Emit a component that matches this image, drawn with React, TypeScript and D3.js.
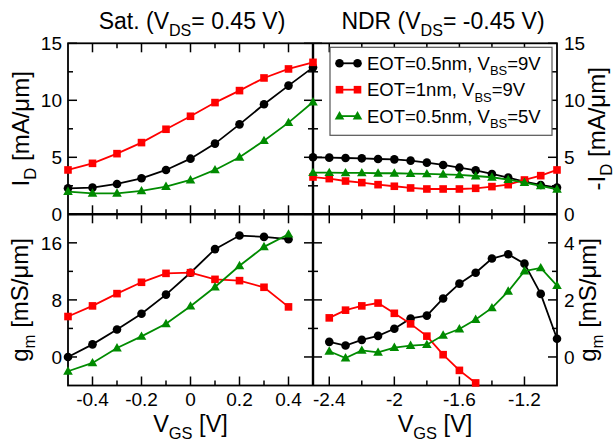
import React from "react";
import * as d3 from "d3";

// ---------- DATA ----------
const xSatTop = [-0.5, -0.4, -0.3, -0.2, -0.1, 0, 0.1, 0.2, 0.3, 0.4, 0.5];
const idSatBlack = [2.28, 2.34, 2.66, 3.16, 3.89, 4.88, 6.2, 7.89, 9.65, 11.29, 12.89];
const idSatRed = [3.89, 4.47, 5.32, 6.29, 7.46, 8.6, 9.8, 10.85, 11.96, 12.75, 13.33];
const idSatGreen = [1.99, 1.84, 1.84, 2.05, 2.43, 3.01, 3.89, 5.0, 6.46, 8.04, 9.85];

const xNdrTop = [-2.5, -2.4, -2.3, -2.2, -2.1, -2.0, -1.9, -1.8, -1.7, -1.6, -1.5, -1.4, -1.3, -1.2, -1.1, -1.0];
const idNdrBlack = [5.0, 4.97, 4.94, 4.91, 4.85, 4.82, 4.71, 4.53, 4.33, 4.09, 3.86, 3.54, 3.22, 2.87, 2.57, 2.34];
const idNdrRed = [3.27, 3.13, 2.92, 2.78, 2.6, 2.46, 2.31, 2.22, 2.22, 2.22, 2.28, 2.43, 2.6, 3.01, 3.39, 3.89];
const idNdrGreen = [3.65, 3.65, 3.63, 3.63, 3.6, 3.6, 3.57, 3.54, 3.51, 3.45, 3.36, 3.25, 3.04, 2.78, 2.49, 2.19];

const xSatBot = [-0.5, -0.4, -0.3, -0.2, -0.1, 0, 0.1, 0.2, 0.3, 0.4];
const gmSatBlack = [0, 1.77, 3.86, 6.05, 8.74, 11.81, 15.12, 17.02, 16.84, 16.51];
const gmSatRed = [5.67, 7.16, 8.88, 10.47, 11.72, 11.81, 10.88, 10.7, 9.77, 7.02];
const gmSatGreen = [-2.0, -0.84, 1.26, 2.88, 4.65, 7.12, 9.81, 12.79, 15.44, 17.21];

const xNdrBot = [-2.4, -2.3, -2.2, -2.1, -2.0, -1.9, -1.8, -1.7, -1.6, -1.5, -1.4, -1.3, -1.2, -1.1, -1.0];
const gmNdrBlack = [0.53, 0.4, 0.6, 0.74, 0.99, 1.35, 1.45, 2.05, 2.57, 2.95, 3.45, 3.6, 3.27, 2.21, 0.64];
const gmNdrRed = [1.37, 1.64, 1.79, 1.89, 1.53, 1.16, 0.73, 0.08, -0.47, -0.91];
const gmNdrGreen = [0.2, -0.04, 0.23, 0.16, 0.33, 0.4, 0.43, 0.76, 0.98, 1.31, 1.72, 2.3, 3.01, 3.12, 2.5];

const satXTickLabels = ["-0.4", "-0.2", "0", "0.2", "0.4"];
const satXMajor = [-0.4, -0.2, 0, 0.2, 0.4];
const satXMinor = [-0.3, -0.1, 0.1, 0.3];
const ndrXTickLabels = ["-2.4", "-2", "-1.6", "-1.2"];
const ndrXMajor = [-2.4, -2.0, -1.6, -1.2];
const ndrXMinor = [-2.2, -1.8, -1.4];
const idMajor = [0, 5, 10, 15];
const idMinor = [2.5, 7.5, 12.5];
const gmSatMajor = [0, 8, 16];
const gmSatMinor = [4, 12];
const gmNdrMajor = [0, 2, 4];
const gmNdrMinor = [1, 3];

const seriesNames = [
  ["EOT=0.5nm, V", "BS", "=9V"],
  ["EOT=1nm, V", "BS", "=9V"],
  ["EOT=0.5nm, V", "BS", "=5V"],
];
const colors = ["#000000", "#ff0000", "#008b00"];
const markers = ["circle", "square", "triangle"];

// ---------- LAYOUT ----------
const X0 = 68, XM = 313, X1 = 557;
const Y0 = 43.3, YM = 214.3, Y1 = 385.5;
const FONT = "'Liberation Sans', Arial, Helvetica, sans-serif";

const xSat = d3.scaleLinear().domain([-0.5, 0.5]).range([X0, XM]);
const xNdr = d3.scaleLinear().domain([-2.5, -1.0]).range([XM, X1]);
const yId = d3.scaleLinear().domain([0, 15]).range([YM, Y0]);
const yGmSat = d3.scaleLinear().domain([-4, 20]).range([Y1, YM]);
const yGmNdr = d3.scaleLinear().domain([-1, 5]).range([Y1, YM]);

function Marker({ type, x, y, color }: { type: string; x: number; y: number; color: string }) {
  if (type === "circle") return <circle cx={x} cy={y} r={4.3} fill={color} />;
  if (type === "square") return <rect x={x - 3.8} y={y - 3.8} width={7.6} height={7.6} fill={color} />;
  const p = d3.path();
  p.moveTo(x, y - 5);
  p.lineTo(x - 4.8, y + 3.4);
  p.lineTo(x + 4.8, y + 3.4);
  p.closePath();
  return <path d={p.toString()} fill={color} />;
}

function Series({ xs, ys, sx, sy, idx }: any) {
  const pts: [number, number][] = ys.map((v: number, i: number) => [sx(xs[i]), sy(v)]);
  const line = d3.line();
  return (
    <g>
      <path d={line(pts) || ""} fill="none" stroke={colors[idx]} strokeWidth={1.8} />
      {pts.map((p, i) => (
        <Marker key={i} type={markers[idx]} x={p[0]} y={p[1]} color={colors[idx]} />
      ))}
    </g>
  );
}

function SubText({ x, y, parts, fs, anchor = "start", transform }: any) {
  const sub = fs * 0.7;
  const shift = fs * 0.3;
  return (
    <text x={x} y={y} fontSize={fs} fontFamily={FONT} textAnchor={anchor} transform={transform} fill="#000">
      {parts.map((t: string, i: number) => {
        const isSub = i % 2 === 1;
        const dy = i === 0 ? 0 : isSub ? shift : -shift;
        return (
          <tspan key={i} dy={dy} fontSize={isSub ? sub : fs}>
            {t}
          </tspan>
        );
      })}
    </text>
  );
}

function Ticks({ sx, sy, xMaj, xMin, yMaj, yMin, xr, yr }: any) {
  const M = 9, m = 5;
  const [xa, xb] = xr;
  const [ya, yb] = yr;
  const els: any[] = [];
  const add = (x1: number, y1: number, x2: number, y2: number) =>
    els.push(<line key={els.length} x1={x1} y1={y1} x2={x2} y2={y2} stroke="#000" strokeWidth={1.5} />);
  xMaj.forEach((v: number) => { const x = sx(v); add(x, yb, x, yb - M); add(x, ya, x, ya + M); });
  xMin.forEach((v: number) => { const x = sx(v); add(x, yb, x, yb - m); add(x, ya, x, ya + m); });
  yMaj.forEach((v: number) => { const y = sy(v); add(xa, y, xa + M, y); add(xb, y, xb - M, y); });
  yMin.forEach((v: number) => { const y = sy(v); add(xa, y, xa + m, y); add(xb, y, xb - m, y); });
  return <g>{els}</g>;
}

export default function App() {
  const tfs = 19;
  const afs = 24;
  return (
    <svg width={616} height={441} style={{ position: "absolute", left: 0, top: 0, background: "#fff" }}>
      <rect x={0} y={0} width={616} height={441} fill="#fff" />
      <SubText x={192} y={29} fs={23} anchor="middle" parts={["Sat. (V", "DS", "= 0.45 V)"]} />
      <SubText x={443} y={29} fs={23} anchor="middle" parts={["NDR (V", "DS", "= -0.45 V)"]} />

      <Ticks sx={xSat} sy={yId} xMaj={satXMajor} xMin={satXMinor} yMaj={idMajor} yMin={idMinor} xr={[X0, XM]} yr={[Y0, YM]} />
      <Ticks sx={xNdr} sy={yId} xMaj={ndrXMajor} xMin={ndrXMinor} yMaj={idMajor} yMin={idMinor} xr={[XM, X1]} yr={[Y0, YM]} />
      <Ticks sx={xSat} sy={yGmSat} xMaj={satXMajor} xMin={satXMinor} yMaj={gmSatMajor} yMin={gmSatMinor} xr={[X0, XM]} yr={[YM, Y1]} />
      <Ticks sx={xNdr} sy={yGmNdr} xMaj={ndrXMajor} xMin={ndrXMinor} yMaj={gmNdrMajor} yMin={gmNdrMinor} xr={[XM, X1]} yr={[YM, Y1]} />

      <rect x={X0} y={Y0} width={X1 - X0} height={Y1 - Y0} fill="none" stroke="#000" strokeWidth={1.8} />
      <line x1={X0} x2={X1} y1={YM} y2={YM} stroke="#000" strokeWidth={2.4} />
      <line x1={XM} x2={XM} y1={Y0} y2={Y1} stroke="#000" strokeWidth={2.4} />

      <Series xs={xSatTop} ys={idSatBlack} sx={xSat} sy={yId} idx={0} />
      <Series xs={xSatTop} ys={idSatRed} sx={xSat} sy={yId} idx={1} />
      <Series xs={xSatTop} ys={idSatGreen} sx={xSat} sy={yId} idx={2} />
      <Series xs={xNdrTop} ys={idNdrBlack} sx={xNdr} sy={yId} idx={0} />
      <Series xs={xNdrTop} ys={idNdrRed} sx={xNdr} sy={yId} idx={1} />
      <Series xs={xNdrTop} ys={idNdrGreen} sx={xNdr} sy={yId} idx={2} />
      <Series xs={xSatBot} ys={gmSatBlack} sx={xSat} sy={yGmSat} idx={0} />
      <Series xs={xSatBot} ys={gmSatRed} sx={xSat} sy={yGmSat} idx={1} />
      <Series xs={xSatBot} ys={gmSatGreen} sx={xSat} sy={yGmSat} idx={2} />
      <Series xs={xNdrBot} ys={gmNdrBlack} sx={xNdr} sy={yGmNdr} idx={0} />
      <Series xs={xNdrBot} ys={gmNdrRed} sx={xNdr} sy={yGmNdr} idx={1} />
      <Series xs={xNdrBot} ys={gmNdrGreen} sx={xNdr} sy={yGmNdr} idx={2} />

      <g fontFamily={FONT} fontSize={tfs} fill="#000">
        {idMajor.map((v) => (
          <text key={"l" + v} x={X0 - 6} y={yId(v) + 7} textAnchor="end">{String(v)}</text>
        ))}
        {idMajor.map((v) => (
          <text key={"r" + v} x={X1 + 7} y={yId(v) + 7} textAnchor="start">{String(v)}</text>
        ))}
        {gmSatMajor.map((v) => (
          <text key={"gl" + v} x={X0 - 6} y={yGmSat(v) + 7} textAnchor="end">{String(v)}</text>
        ))}
        {gmNdrMajor.map((v) => (
          <text key={"gr" + v} x={X1 + 7} y={yGmNdr(v) + 7} textAnchor="start">{String(v)}</text>
        ))}
        {satXMajor.map((v, i) => (
          <text key={"xs" + i} x={xSat(v)} y={406} textAnchor="middle">{satXTickLabels[i]}</text>
        ))}
        {ndrXMajor.map((v, i) => (
          <text key={"xn" + i} x={xNdr(v)} y={406} textAnchor="middle">{ndrXTickLabels[i]}</text>
        ))}
      </g>

      <SubText x={0} y={0} fs={afs} anchor="middle" parts={["I", "D", " [mA/\u03bcm]"]} transform={`translate(29,${(Y0 + YM) / 2}) rotate(-90)`} />
      <SubText x={0} y={0} fs={afs} anchor="middle" parts={["g", "m", " [mS/\u03bcm]"]} transform={`translate(28,${(YM + Y1) / 2}) rotate(-90)`} />
      <SubText x={0} y={0} fs={afs} anchor="middle" parts={["-I", "D", " [mA/\u03bcm]"]} transform={`translate(605,${(Y0 + YM) / 2}) rotate(-90)`} />
      <SubText x={0} y={0} fs={afs} anchor="middle" parts={["g", "m", " [mS/\u03bcm]"]} transform={`translate(596,${(YM + Y1) / 2}) rotate(-90)`} />
      <SubText x={(X0 + XM) / 2} y={431.5} fs={23.5} anchor="middle" parts={["V", "GS", " [V]"]} />
      <SubText x={(XM + X1) / 2} y={431.5} fs={23.5} anchor="middle" parts={["V", "GS", " [V]"]} />

      <g>
        <rect x={330} y={47.3} width={222} height={88} fill="#fff" stroke="#555" strokeWidth={1.2} />
        {seriesNames.map((parts, i) => {
          const cy = 63.3 + i * 26.4;
          return (
            <g key={i}>
              <line x1={339.5} x2={357.5} y1={cy} y2={cy} stroke={colors[i]} strokeWidth={1.8} />
              <Marker type={markers[i]} x={339.5} y={cy} color={colors[i]} />
              <Marker type={markers[i]} x={357.5} y={cy} color={colors[i]} />
              <SubText x={367} y={cy + 6.5} fs={18.5} parts={parts} />
            </g>
          );
        })}
      </g>
    </svg>
  );
}
